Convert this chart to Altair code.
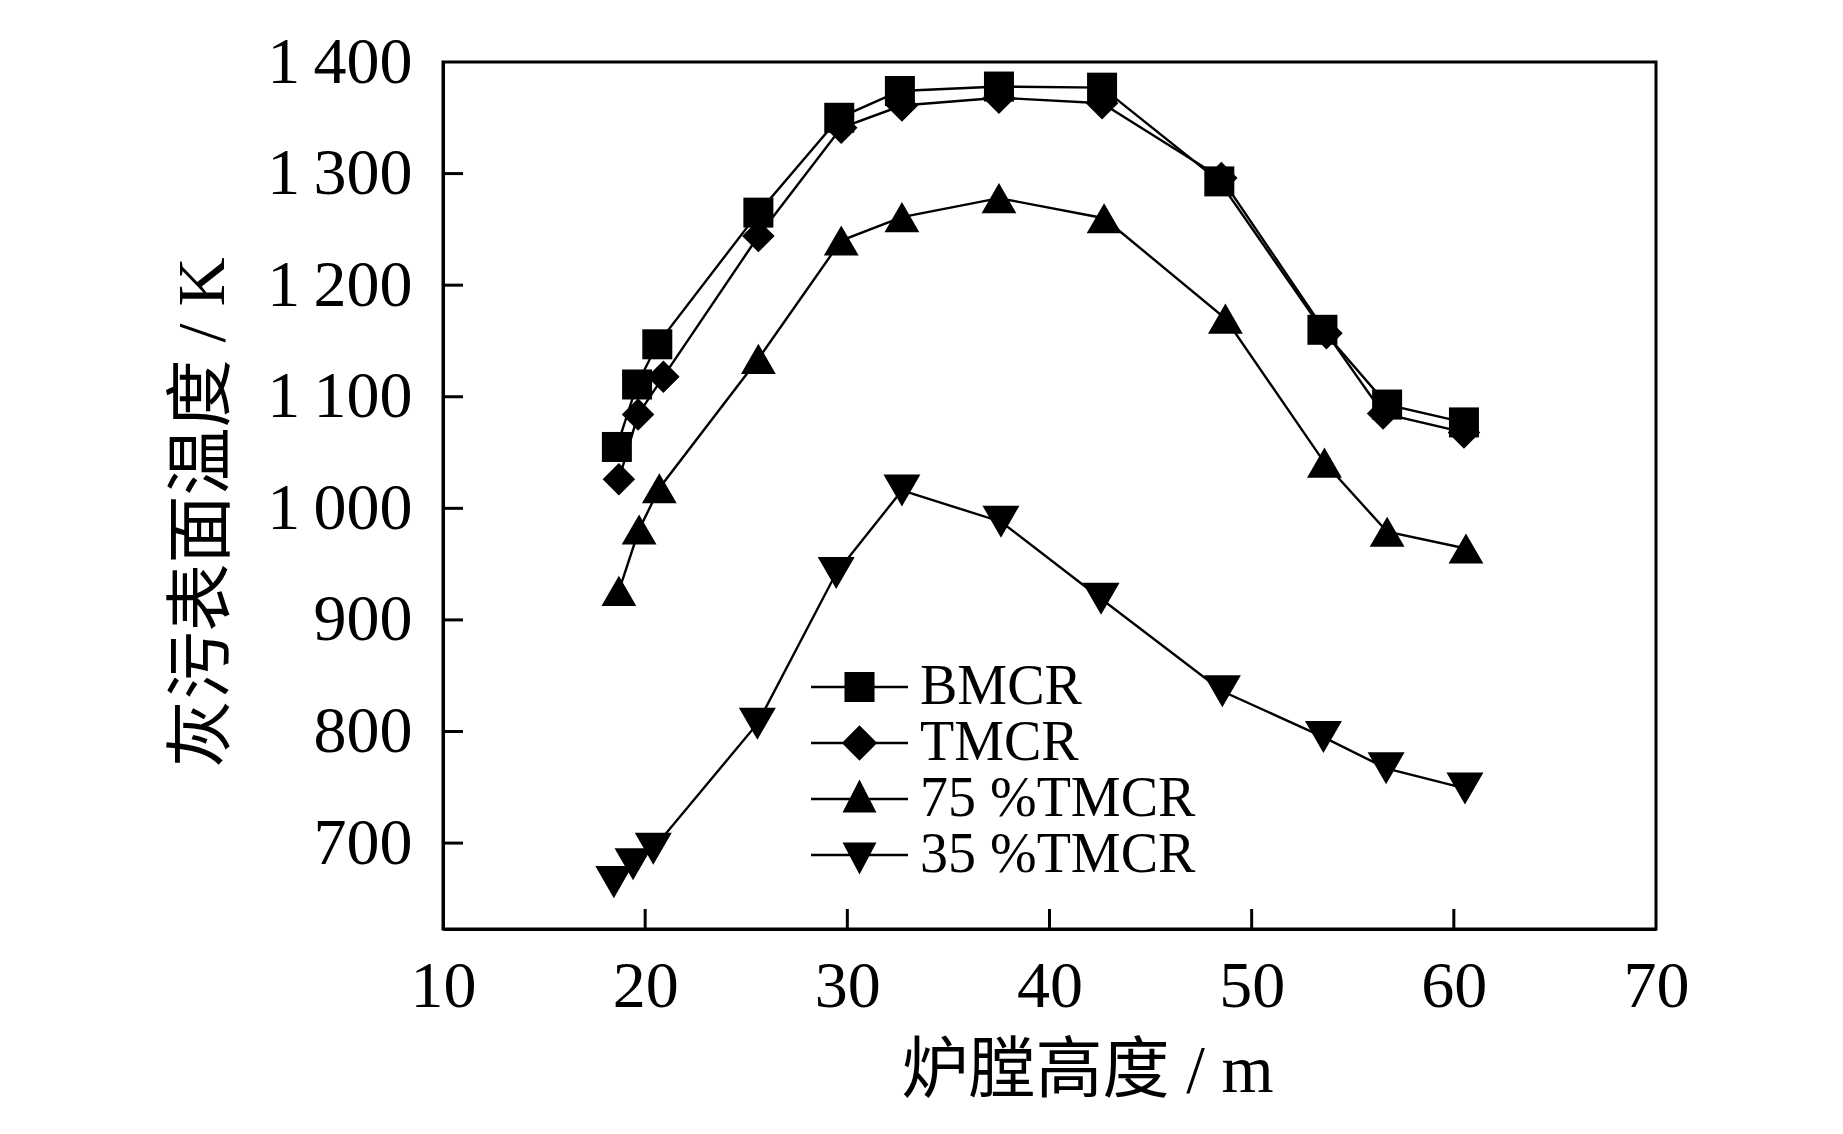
import altair as alt
import pandas as pd

# ---------------- data ----------------
series_names = ["BMCR", "TMCR", "75 %TMCR", "35 %TMCR"]

bmcr_x = [18.6, 19.6, 20.6, 25.6, 29.6, 32.6, 37.5, 42.6, 48.4, 53.5, 56.7, 60.5]
bmcr_y = [1055, 1111, 1147, 1265, 1350, 1374, 1378, 1377, 1293, 1160, 1093, 1077]

tmcr_x = [18.7, 19.65, 20.9, 25.6, 29.7, 32.7, 37.5, 42.6, 48.5, 53.7, 56.5, 60.5]
tmcr_y = [1026, 1084, 1118, 1244, 1341, 1361, 1368, 1363, 1296, 1157, 1085, 1068]

t75_x = [18.7, 19.7, 20.7, 25.6, 29.7, 32.7, 37.5, 42.7, 48.7, 53.6, 56.7, 60.6]
t75_y = [926, 981, 1018, 1134, 1240, 1261, 1278, 1260, 1170, 1041, 979, 964]

t35_x = [18.45, 19.4, 20.4, 25.55, 29.45, 32.7, 37.6, 42.55, 48.55, 53.55, 56.65, 60.55]
t35_y = [665, 681, 695, 807, 942, 1016, 988, 919, 836, 795, 767, 749]

x_ticks = [10, 20, 30, 40, 50, 60, 70]
y_ticks = [700, 800, 900, 1000, 1100, 1200, 1300, 1400]

x_title = "炉膛高度 / m"
y_title = "灰污表面温度 / K"

rows = []
for name, xs, ys in zip(series_names,
                        [bmcr_x, tmcr_x, t75_x, t35_x],
                        [bmcr_y, tmcr_y, t75_y, t35_y]):
    for a, b in zip(xs, ys):
        rows.append({"series": name, "x": a, "y": b})
df = pd.DataFrame(rows)

# ---------------- styling ----------------
SERIF = '"Liberation Serif", "Times New Roman", serif'
MIXED = '"Liberation Serif", "Noto Sans CJK SC", serif'
W, H = 1213, 867

xscale = alt.Scale(domain=[10, 70], nice=False, zero=False)
yscale = alt.Scale(domain=[623, 1400], nice=False, zero=False)

shape_scale = alt.Scale(domain=series_names,
                        range=["square", "diamond", "triangle-up", "triangle-down"])
size_scale = alt.Scale(domain=series_names, range=[900, 1369, 1225, 1225])

# legend glyphs: a thin filled bar (the line) plus the filled marker,
# all sub-paths wound the same way so the overlap stays filled
BAR = "M-1,-0.025H1V0.025H-1Z"
legend_paths = [
    BAR + "M-0.31,-0.31H0.31V0.31H-0.31Z",
    BAR + "M-0.365,0L0,-0.365L0.365,0L0,0.365Z",
    BAR + "M0,-0.40L0.35,0.28L-0.35,0.28Z",
    BAR + "M0,0.40L-0.35,-0.26L0.35,-0.26Z",
]

x_axis = alt.Axis(values=x_ticks, ticks=False, grid=False, domain=True,
                  domainColor="black", domainWidth=3, labelFlush=False,
                  labelFont=SERIF, labelFontSize=66, labelColor="black",
                  labelPadding=25, title=x_title, titleFont=MIXED,
                  titleFontSize=67, titleFontWeight="normal", titleColor="black",
                  titleX=644, titleY=142, titleAlign="center",
                  titleBaseline="middle")
y_axis = alt.Axis(values=y_ticks, ticks=False, grid=False, domain=True,
                  domainColor="black", domainWidth=3, labelFlush=False,
                  labelExpr="replace(format(datum.value, ','), ',', '\u2009')",
                  labelFont=SERIF, labelFontSize=66, labelColor="black",
                  labelPadding=31, title=y_title, titleFont=MIXED,
                  titleFontSize=68, titleFontWeight="normal", titleColor="black",
                  titleAngle=270, titleX=-240, titleY=450, titleAlign="center",
                  titleBaseline="middle")

X = alt.X("x:Q", scale=xscale, axis=x_axis)
Y = alt.Y("y:Q", scale=yscale, axis=y_axis)

base = alt.Chart(df)

lines = base.mark_line(color="black", strokeWidth=2.4).encode(
    x=X, y=Y, detail="series:N",
)

points = base.mark_point(filled=True, opacity=1, color="black").encode(
    x=X, y=Y,
    shape=alt.Shape("series:N", scale=shape_scale, legend=None),
    size=alt.Size("series:O", scale=size_scale, legend=None),
)

legend_layer = base.transform_filter("datum.x > 1000").mark_point(
    filled=True, color="black", opacity=1
).encode(
    x=X, y=Y,
    shape=alt.Shape(
        "series:N",
        scale=alt.Scale(domain=series_names, range=legend_paths),
        legend=alt.Legend(
            title=None, orient="none", legendX=368, legendY=601,
            symbolSize=9409, symbolFillColor="black",
            symbolStrokeWidth=0, symbolOpacity=1,
            labelFont=SERIF, labelFontSize=56, labelColor="black",
            labelOffset=12, rowPadding=0, clipHeight=48, padding=0,
            labelLimit=0,
        ),
    ),
)

xt = alt.Chart(pd.DataFrame({"x": x_ticks[1:-1]})).mark_rule(
    color="black", strokeWidth=3
).encode(
    x=X,
    y=alt.value(H),
    y2=alt.value(H - 20),
)
yt = alt.Chart(pd.DataFrame({"y": y_ticks[:-1]})).mark_rule(
    color="black", strokeWidth=3
).encode(
    y=Y,
    x=alt.value(0),
    x2=alt.value(20),
)

chart = alt.layer(lines, points, legend_layer, xt, yt).resolve_scale(
    shape="independent"
).properties(
    width=W, height=H,
    autosize=alt.AutoSizeParams(type="none"),
    padding={"left": 435, "top": 54, "right": 170, "bottom": 190},
    background="white",
).configure_view(stroke="black", strokeWidth=3)

chart.save("out.html", embed_options={"renderer": "svg", "actions": False})
